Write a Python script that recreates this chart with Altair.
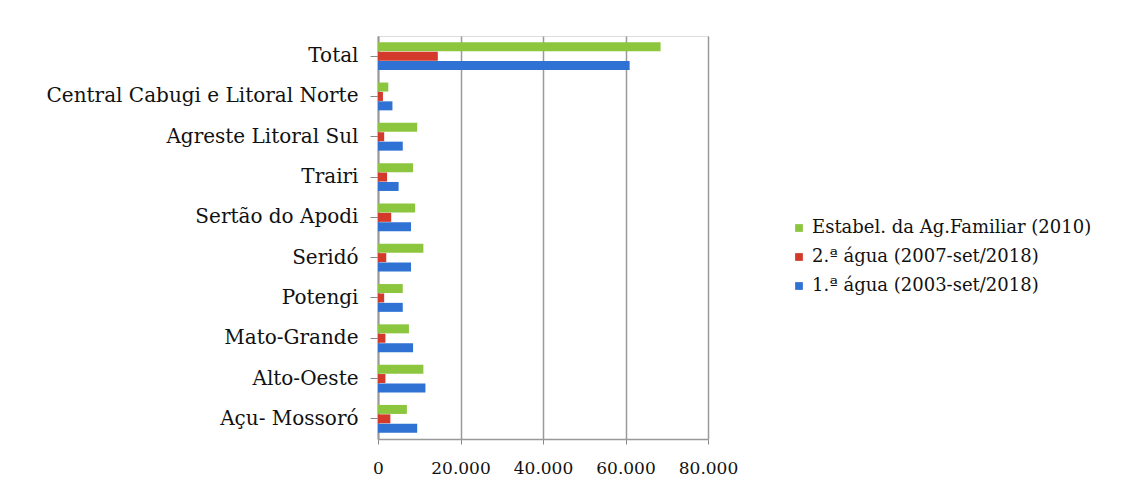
import altair as alt
import pandas as pd

regions = [
    "Total",
    "Central Cabugi e Litoral Norte",
    "Agreste Litoral Sul",
    "Trairi",
    "Sertão do Apodi",
    "Seridó",
    "Potengi",
    "Mato-Grande",
    "Alto-Oeste",
    "Açu- Mossoró",
]

series = [
    "Estabel. da Ag.Familiar (2010)",
    "2.ª água (2007-set/2018)",
    "1.ª água (2003-set/2018)",
]
colors = ["#8cc63f", "#d33a2c", "#2f72d3"]

estabelecimentos = [68500, 2500, 9500, 8500, 9000, 11000, 6000, 7500, 11000, 7000]
segunda_agua = [14500, 1200, 1500, 2200, 3200, 2000, 1500, 1800, 1800, 3000]
primeira_agua = [61000, 3500, 6000, 5000, 8000, 8000, 6000, 8500, 11500, 9500]

rows = []
for values, name in zip([estabelecimentos, segunda_agua, primeira_agua], series):
    for region, v in zip(regions, values):
        rows.append({"Região": region, "Série": name, "Valor": v})
df = pd.DataFrame(rows)

FONT = "DejaVu Serif"

chart = (
    alt.Chart(df)
    .mark_bar(size=9)
    .encode(
        y=alt.Y(
            "Região:N",
            sort=regions,
            title=None,
            scale=alt.Scale(paddingInner=0.3, paddingOuter=0.15),
            axis=alt.Axis(
                labelFont=FONT,
                labelFontSize=20,
                labelColor="#111111",
                labelPadding=12,
                labelLimit=400,
                tickColor="#888888",
                tickSize=8,
                domainColor="#999999",
                domainWidth=2,
            ),
        ),
        yOffset=alt.YOffset("Série:N", sort=series),
        x=alt.X(
            "Valor:Q",
            title=None,
            scale=alt.Scale(domain=[0, 80000]),
            axis=alt.Axis(
                values=[0, 20000, 40000, 60000, 80000],
                labelExpr="replace(format(datum.value, ',d'), ',', '.')",
                labelFont=FONT,
                labelFontSize=17,
                labelColor="#111111",
                labelPadding=16,
                labelOverlap=False,
                labelFlush=False,
                grid=True,
                gridColor="#9a9a9a",
                gridWidth=1.5,
                tickColor="#888888",
                domainColor="#999999",
                domainWidth=1.5,
            ),
        ),
        color=alt.Color(
            "Série:N",
            sort=series,
            scale=alt.Scale(domain=series, range=colors),
            legend=alt.Legend(
                title=None,
                orient="none",
                legendX=412,
                legendY=183,
                symbolType="square",
                symbolSize=60,
                symbolStrokeWidth=0,
                labelFont=FONT,
                labelFontSize=18,
                labelColor="#111111",
                rowPadding=11,
                labelLimit=500,
            ),
        ),
    )
    .properties(width=330, height=403, padding={"left": 46, "top": 36, "right": 5, "bottom": 5})
    .configure_view(strokeWidth=0)
    .configure(background="white")
)

chart.save("out.html", embed_options={"renderer": "svg", "actions": False})
